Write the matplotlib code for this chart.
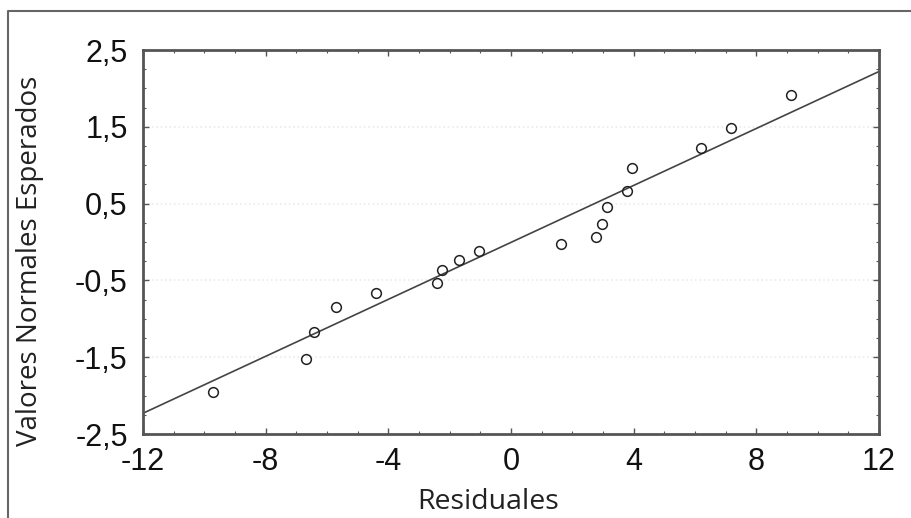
import matplotlib
matplotlib.use("Agg")
import matplotlib.pyplot as plt
from matplotlib.lines import Line2D
from matplotlib.ticker import MultipleLocator, FuncFormatter

# Residuales vs valores normales esperados
residuales = [-9.71, -6.68, -6.42, -5.70, -4.39, -2.40, -2.24, -1.68, -1.03,
              1.62, 2.76, 2.96, 3.12, 3.77, 3.93, 6.19, 7.17, 9.13]
esperados = [-1.95, -1.52, -1.17, -0.84, -0.66, -0.54, -0.37, -0.23, -0.12,
             -0.02, 0.07, 0.24, 0.45, 0.67, 0.97, 1.23, 1.48, 1.91]

# Recta de referencia (extremos leídos)
recta_x = [-12, 12]
recta_y = [-2.23, 2.22]

x_ticks = [-12, -8, -4, 0, 4, 8, 12]
y_ticks = [-2.5, -1.5, -0.5, 0.5, 1.5, 2.5]

W, H = 912, 518
fig = plt.figure(figsize=(W / 100, H / 100), dpi=100)
ax = fig.add_axes([143 / W, 1 - 434 / H, 736 / W, 384 / H])

# marco exterior de la imagen
fig.add_artist(Line2D([8 / W, 8 / W, 1.0], [0.0, 1 - 11 / H, 1 - 11 / H],
                      transform=fig.transFigure, color='#666666', linewidth=1.5))

# rejilla muy tenue
for yv in [-1.5, -0.5, 0.5, 1.5]:
    ax.axhline(yv, color='#ebebeb', linestyle=':', linewidth=1.2, zorder=0)

ax.plot(recta_x, recta_y, color='#444444', linewidth=1.2, zorder=2)
ax.plot(residuales, esperados, linestyle='none', marker='o', markersize=7,
        markerfacecolor='none', markeredgecolor='#222222', markeredgewidth=1.1, zorder=3)

ax.set_xlim(-12, 12)
ax.set_ylim(-2.5, 2.5)
ax.set_xticks(x_ticks)
ax.set_yticks(y_ticks)
ax.xaxis.set_minor_locator(MultipleLocator(1))
ax.yaxis.set_minor_locator(MultipleLocator(0.25))
ax.xaxis.set_major_formatter(FuncFormatter(lambda v, p: f'{v:g}'))
ax.yaxis.set_major_formatter(FuncFormatter(lambda v, p: f'{v:.1f}'.replace('.', ',')))

ax.tick_params(which='both', direction='in', top=True, right=True, color='#555555')
ax.tick_params(which='major', length=4, width=1)
ax.tick_params(which='minor', length=2.5, width=0.8)
ax.tick_params(axis='x', which='major', pad=9)
ax.tick_params(axis='y', which='major', pad=11)
for lab in ax.get_xticklabels() + ax.get_yticklabels():
    lab.set_family('Liberation Sans')
    lab.set_fontsize(22)
    lab.set_color('#111111')

for s in ax.spines.values():
    s.set_color('#555555')
    s.set_linewidth(2)

ax.set_xlabel('Residuales', family='Open Sans', fontsize=20.5, color='#222222')
ax.set_ylabel('Valores Normales Esperados', family='Open Sans', fontsize=20, color='#222222')
ax.xaxis.set_label_coords((488 - 143) / 736, (434 - 488) / 384)
ax.yaxis.set_label_coords((44 - 143) / 736, (434 - 261) / 384)

fig.savefig('out.png', dpi=100)
